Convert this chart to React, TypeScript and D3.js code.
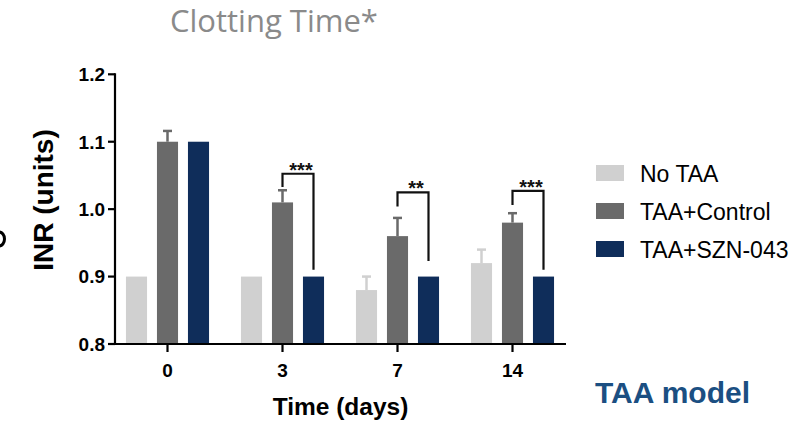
import React from "react";
import * as d3 from "d3";

const categories = ["0", "3", "7", "14"];
const seriesNames = ["No TAA", "TAA+Control", "TAA+SZN-043"];
const noTAA = [0.9, 0.9, 0.88, 0.92];
const noTAAErr = [0, 0, 0.02, 0.02];
const taaControl = [1.1, 1.01, 0.96, 0.98];
const taaControlErr = [0.016, 0.018, 0.027, 0.014];
const taaSzn = [1.1, 0.9, 0.9, 0.9];
const taaSznErr = [0, 0, 0, 0];
const yTicks = [0.8, 0.9, 1.0, 1.1, 1.2];
const sigGroups = ["3", "7", "14"];
const sigLabels = ["***", "**", "***"];
const sigTop = [1.0525, 1.025, 1.027];
const sigLeftEnd = [1.033, 1.004, 1.006];
const sigRightEnd = [0.91, 0.923, 0.91];

const colors = ["#d0d0d0", "#6a6a6a", "#0f2d5a"];
const values = [noTAA, taaControl, taaSzn];
const errs = [noTAAErr, taaControlErr, taaSznErr];

const ARIAL = "'Liberation Sans', Arial, sans-serif";

export default function App() {
  const x0 = d3.scaleBand<string>().domain(categories).range([110, 570]);
  const x1 = d3
    .scaleBand<string>()
    .domain(seriesNames)
    .range([11, 104])
    .paddingInner(0.32)
    .paddingOuter(0.16);
  const y = d3.scaleLinear().domain([0.8, 1.2]).range([344, 74.3]);
  const axisX = 115;
  const axisY = y(0.8);
  const bw = x1.bandwidth();
  const fmt = d3.format(".1f");

  return (
    <svg
      width={810}
      height={422}
      style={{ position: "absolute", left: 0, top: 0, background: "#fff" }}
    >
      <text
        x={170}
        y={32}
        fontFamily="'Open Sans', sans-serif"
        fontSize={31}
        fill="#8a8a8a"
      >
        Clotting Time*
      </text>

      {/* bars */}
      {categories.map((c, ci) =>
        seriesNames.map((s, si) => {
          const v = values[si][ci];
          const bx = (x0(c) as number) + (x1(s) as number);
          const top = y(v);
          const e = errs[si][ci];
          const cx = bx + bw / 2;
          return (
            <g key={c + s}>
              <rect
                x={bx}
                y={top}
                width={bw}
                height={axisY - top}
                fill={colors[si]}
              />
              {e > 0 && (
                <g stroke={colors[si]} strokeWidth={2.5}>
                  <line x1={cx} x2={cx} y1={top} y2={y(v + e)} />
                  <line x1={cx - 4.5} x2={cx + 4.5} y1={y(v + e)} y2={y(v + e)} />
                </g>
              )}
            </g>
          );
        })
      )}

      {/* significance brackets */}
      {sigGroups.map((g, i) => {
        const lx = (x0(g) as number) + (x1(seriesNames[1]) as number) + bw / 2;
        const rx = (x0(g) as number) + (x1(seriesNames[2]) as number) + bw / 2;
        const ty = y(sigTop[i]);
        return (
          <g key={"sig" + g}>
            <path
              d={`M${lx},${y(sigLeftEnd[i])}V${ty}H${rx}V${y(sigRightEnd[i])}`}
              fill="none"
              stroke="#111"
              strokeWidth={2.2}
            />
            <text
              x={(lx + rx) / 2 + 3}
              y={ty + 3}
              textAnchor="middle"
              fontFamily={ARIAL}
              fontWeight="bold"
              fontSize={20}
              fill="#111"
            >
              {sigLabels[i]}
            </text>
          </g>
        );
      })}

      {/* y axis */}
      <line x1={axisX} x2={axisX} y1={y(1.2) - 1} y2={axisY + 1} stroke="#000" strokeWidth={2.2} />
      {yTicks.map((t) => (
        <g key={"yt" + t}>
          <line x1={axisX - 7} x2={axisX} y1={y(t)} y2={y(t)} stroke="#000" strokeWidth={2.2} />
          <text
            x={axisX - 10}
            y={y(t) + 6.8}
            textAnchor="end"
            fontFamily={ARIAL}
            fontWeight="bold"
            fontSize={19}
            fill="#000"
          >
            {fmt(t)}
          </text>
        </g>
      ))}

      {/* x axis */}
      <line x1={axisX - 1} x2={566} y1={axisY} y2={axisY} stroke="#000" strokeWidth={2.2} />
      {categories.map((c) => {
        const cx = (x0(c) as number) + x0.bandwidth() / 2;
        return (
          <g key={"xt" + c}>
            <line x1={cx} x2={cx} y1={axisY} y2={axisY + 8} stroke="#000" strokeWidth={2.2} />
            <text
              x={cx}
              y={377}
              textAnchor="middle"
              fontFamily={ARIAL}
              fontWeight="bold"
              fontSize={19}
              fill="#000"
            >
              {c}
            </text>
          </g>
        );
      })}

      <text
        x={340.5}
        y={415}
        textAnchor="middle"
        fontFamily={ARIAL}
        fontWeight="bold"
        fontSize={24.5}
        fill="#000"
      >
        Time (days)
      </text>

      <text
        transform="translate(53,200) rotate(-90)"
        textAnchor="middle"
        fontFamily={ARIAL}
        fontWeight="bold"
        fontSize={28}
        fill="#000"
      >
        INR (units)
      </text>

      {/* clipped fragment at the left edge */}
      <ellipse cx={-1} cy={239} rx={5.5} ry={7} fill="none" stroke="#000" strokeWidth={3} />

      {/* legend */}
      {seriesNames.map((s, i) => {
        const base = 182 + i * 38;
        return (
          <g key={"lg" + s}>
            <rect x={596} y={base - 17} width={28} height={16} fill={colors[i]} />
            <text x={640} y={base} fontFamily={ARIAL} fontSize={23} fill="#000">
              {s}
            </text>
          </g>
        );
      })}

      <text
        x={595}
        y={403}
        fontFamily={ARIAL}
        fontWeight="bold"
        fontSize={30}
        fill="#1b4f82"
      >
        TAA model
      </text>
    </svg>
  );
}
